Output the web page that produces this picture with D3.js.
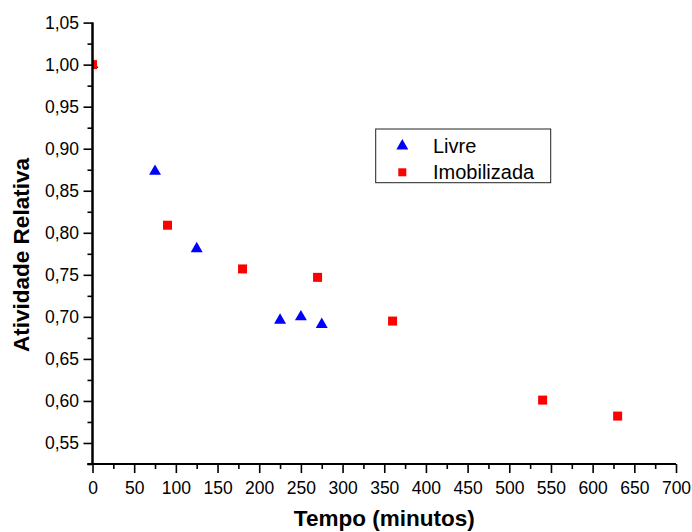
<!DOCTYPE html>
<html>
<head>
<meta charset="utf-8">
<script src="https://cdn.jsdelivr.net/npm/d3@7"></script>
<style>
  html, body { margin: 0; padding: 0; background: #fff; }
  svg { display: block; font-family: "Liberation Sans", Arial, sans-serif; }
</style>
</head>
<body>
<svg id="chart" width="692" height="532"></svg>
<script>
// ---- Data ----
const livreTime = [0, 75, 125, 225, 250, 275];
const livreValue = [1.00, 0.873, 0.781, 0.696, 0.700, 0.691];
const imobTime = [0, 90, 180, 270, 360, 540, 630];
const imobValue = [1.00, 0.809, 0.757, 0.747, 0.695, 0.601, 0.582];
const xMajorTicks = [0, 50, 100, 150, 200, 250, 300, 350, 400, 450, 500, 550, 600, 650, 700];
const yMajorTicks = [0.55, 0.60, 0.65, 0.70, 0.75, 0.80, 0.85, 0.90, 0.95, 1.00, 1.05];
const seriesNames = ["Livre", "Imobilizada"];
const xTitle = "Tempo (minutos)";
const yTitle = "Atividade Relativa";

(function () {
// ---- Layout ----
const pLeft = 92.5, pRight = 676, pTop = 22.6, pBottom = 464;
const svg = d3.select("#chart");
const x = d3.scaleLinear().domain([0, 700]).range([pLeft, pRight]);
const y = d3.scaleLinear().domain([0.525, 1.05]).range([pBottom, pTop]);

const fmt = v => d3.format(".2f")(v).replace(".", ",");

const xMinor = d3.range(25, 700, 50);
const yMinor = d3.range(0, 11).map(i => +(0.525 + 0.05 * i).toFixed(3));

// clip path
svg.append("defs").append("clipPath").attr("id", "plotclip")
  .append("rect").attr("x", pLeft).attr("y", pTop - 6)
  .attr("width", pRight - pLeft + 6).attr("height", pBottom - pTop + 6);

// ---- Points ----
const pts = svg.append("g").attr("clip-path", "url(#plotclip)");
const tri = d3.symbol().type(d3.symbolTriangle).size(62);
const livre = livreTime.map((t, i) => ({t, v: livreValue[i]}));
const imob = imobTime.map((t, i) => ({t, v: imobValue[i]}));
pts.selectAll("path.livre").data(livre).join("path")
  .attr("class", "livre")
  .attr("d", tri)
  .attr("transform", d => `translate(${x(d.t)},${y(d.v)})`)
  .attr("fill", "#0000ff");
const sq = 9;
pts.selectAll("rect.imob").data(imob).join("rect")
  .attr("class", "imob")
  .attr("x", d => x(d.t) - sq / 2).attr("y", d => y(d.v) - sq / 2)
  .attr("width", sq).attr("height", sq)
  .attr("fill", "#ff0000");

// ---- Axes ----
const gx = svg.append("g").attr("transform", `translate(0,${pBottom})`);
gx.call(d3.axisBottom(x).tickValues(xMajorTicks).tickSize(9).tickFormat(d => d));
gx.append("g").call(d3.axisBottom(x).tickValues(xMinor).tickSize(5).tickFormat(""));
gx.selectAll("path.domain").attr("stroke-width", 2).attr("stroke", "#000")
  .attr("d", `M${pLeft - 5},0H${pRight}`);
gx.selectAll(".tick line").attr("stroke-width", 1.6).attr("stroke", "#000");
gx.selectAll(".tick text")
  .attr("y", 30).attr("dy", 0)
  .attr("font-size", "17.5px").attr("fill", "#000")
  .attr("font-family", "Liberation Sans, Arial, sans-serif");

const gy = svg.append("g").attr("transform", `translate(${pLeft},0)`);
gy.call(d3.axisLeft(y).tickValues(yMajorTicks).tickSize(9).tickPadding(4.5).tickFormat(fmt));
gy.append("g").call(d3.axisLeft(y).tickValues(yMinor).tickSize(5).tickFormat(""));
gy.selectAll("path.domain").attr("stroke-width", 2).attr("stroke", "#000")
  .attr("d", `M0,${pTop}V${pBottom}`);
gy.selectAll(".tick line").attr("stroke-width", 1.6).attr("stroke", "#000");
gy.selectAll(".tick text")
  .attr("font-size", "17.5px").attr("fill", "#000")
  .attr("font-family", "Liberation Sans, Arial, sans-serif");

// ---- Titles ----
svg.append("text")
  .attr("x", (pLeft + pRight) / 2).attr("y", 526)
  .attr("text-anchor", "middle")
  .attr("font-size", "22.5px").attr("font-weight", "bold")
  .text(xTitle);
svg.append("text")
  .attr("transform", `translate(29,255) rotate(-90)`)
  .attr("text-anchor", "middle")
  .attr("font-size", "22.5px").attr("font-weight", "bold")
  .text(yTitle);

// ---- Legend ----
const lg = svg.append("g");
lg.append("rect")
  .attr("x", 375.7).attr("y", 129).attr("width", 175).attr("height", 53.7)
  .attr("fill", "#fff").attr("stroke", "#222").attr("stroke-width", 1);
lg.append("path").attr("d", tri)
  .attr("transform", "translate(402.3,146)").attr("fill", "#0000ff");
lg.append("rect").attr("x", 402.3 - 4).attr("y", 172.3 - 4)
  .attr("width", 8).attr("height", 8).attr("fill", "#ff0000");
lg.selectAll("text").data(seriesNames).join("text")
  .attr("x", 433).attr("y", (d, i) => i === 0 ? 153.3 : 179)
  .attr("font-size", "20px").attr("fill", "#000")
  .text(d => d);
})();
</script>
</body>
</html>
